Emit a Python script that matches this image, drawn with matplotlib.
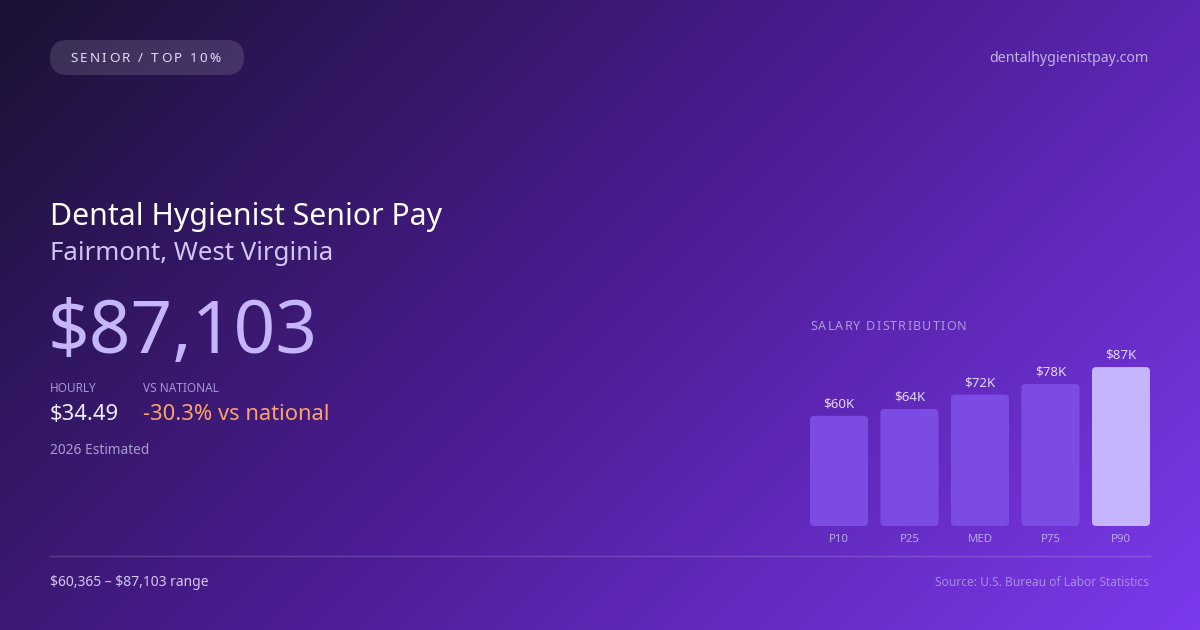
import numpy as np
import matplotlib
matplotlib.use("Agg")
import matplotlib.pyplot as plt
from matplotlib.colors import LinearSegmentedColormap
from matplotlib.patches import FancyBboxPatch

plt.rcParams['font.family'] = ['Noto Sans', 'DejaVu Sans']

# data
categories = ["P10", "P25", "MED", "P75", "P90"]
salaries = [60365, 64100, 72000, 77800, 87103]
bar_labels = ["$60K", "$64K", "$72K", "$78K", "$87K"]

badge = "SENIOR / TOP 10%"
site = "dentalhygienistpay.com"
title = "Dental Hygienist Senior Pay"
subtitle = "Fairmont, West Virginia"
headline = "$87,103"
hourly = "$34.49"
vs_national = "-30.3% vs national"
estimate_note = "2026 Estimated"
range_note = "$60,365 \u2013 $87,103 range"
source_note = "Source: U.S. Bureau of Labor Statistics"

W, H = 1200, 630
fig = plt.figure(figsize=(12, 6.3), dpi=100)

# background, diagonal gradient
bg = fig.add_axes([0, 0, 1, 1])
bg.set_xlim(0, W)
bg.set_ylim(H, 0)
bg.axis("off")
yy, xx = np.mgrid[0:H, 0:W]
t = ((xx - W / 2) * 0.7071 + (yy - H / 2) * 0.7071) / 1294 + 0.5
cmap = LinearSegmentedColormap.from_list("bg", [(0, "#1b1133"), (0.5, "#4c1d95"), (1, "#7c3aed")])
bg.imshow(t, cmap=cmap, vmin=0, vmax=1, extent=(0, W, H, 0), aspect="auto", zorder=0)

renderer = fig.canvas.get_renderer()


def label(x, y, s, **kw):
    return bg.text(x, y, s, va="center", parse_math=False, zorder=3, **kw)


def spaced_text(x, y, s, spacing, **kw):
    # draw text char by char with extra letter spacing (px)
    for ch in s:
        txt = label(x, y, ch, ha="left", **kw)
        w = txt.get_window_extent(renderer).width
        if ch == " ":
            w = kw.get("fontsize", 10) * 100 / 72 * 0.26
        x += w + spacing


# badge
bg.add_patch(FancyBboxPatch((50, 40), 194, 35, boxstyle="round,pad=0,rounding_size=17.5",
                            fc=(1, 1, 1, 0.13), ec="none", zorder=2))
spaced_text(70, 58, badge, 2.3, fontsize=9.7, color="#e4dcf5")
label(1149, 58, site, ha="right", fontsize=10.2, color="#c2b3e6")

# headline block
label(50, 217, title, ha="left", fontsize=21.8, color="#ffffff")
label(50, 253, subtitle, ha="left", fontsize=18.6, color="#d3c6f5")
label(48, 334, headline, ha="left", fontsize=52.5, color="#c4b5fd")
label(50, 388, "HOURLY", ha="left", fontsize=8.5, color="#a894d8")
label(143, 388, "VS NATIONAL", ha="left", fontsize=8.5, color="#a894d8")
label(50, 415, hourly, ha="left", fontsize=15.8, color="#f2eeff")
label(143, 415, vs_national, ha="left", fontsize=15.8, color="#fba26c")
label(50, 450, estimate_note, ha="left", fontsize=9.9, color="#a99ad0")

# footer
bg.plot([50, 1150], [556, 556], color=(1, 1, 1, 0.16), lw=1, zorder=2)
label(50, 582, range_note, ha="left", fontsize=10.0, color="#d3c7f2")
label(1149, 582, source_note, ha="right", fontsize=8.6, color="#a58fdc")

# distribution chart
spaced_text(810, 326, "SALARY DISTRIBUTION", 1.2, fontsize=9.0, color="#ab9bdc")

ymax = 88000
ax = fig.add_axes([810 / W, (H - 526) / H, 340 / W, (ymax / 548) / H])
ax.patch.set_alpha(0)
ax.axis("off")
bw = 0.823
ax.set_xlim(-bw / 2, len(categories) - 1 + bw / 2)
ax.set_ylim(0, ymax)
x = np.arange(len(categories))
bars = ax.bar(x, salaries, width=bw)
aspect = 548 * 70.5
for i, rect in enumerate(bars):
    rect.set_visible(False)
    fc = "#c4b5fd" if i == len(bars) - 1 else "#7b4be4"
    ax.add_patch(FancyBboxPatch((rect.get_x(), 0), rect.get_width(), rect.get_height(),
                                boxstyle="round,pad=0,rounding_size=0.06",
                                mutation_aspect=aspect, fc=fc, ec="none", clip_on=False))
    ax.annotate(bar_labels[i], (x[i], rect.get_height()), xytext=(0, 12), textcoords="offset pixels",
                ha="center", va="center", fontsize=9.6, color="#e2d7ff", annotation_clip=False,
                parse_math=False)
    ax.annotate(categories[i], (x[i], 0), xytext=(0, -14), textcoords="offset pixels",
                ha="center", va="center", fontsize=8.2, color="#b8a8ea", annotation_clip=False)

fig.savefig("out.png", dpi=100)
